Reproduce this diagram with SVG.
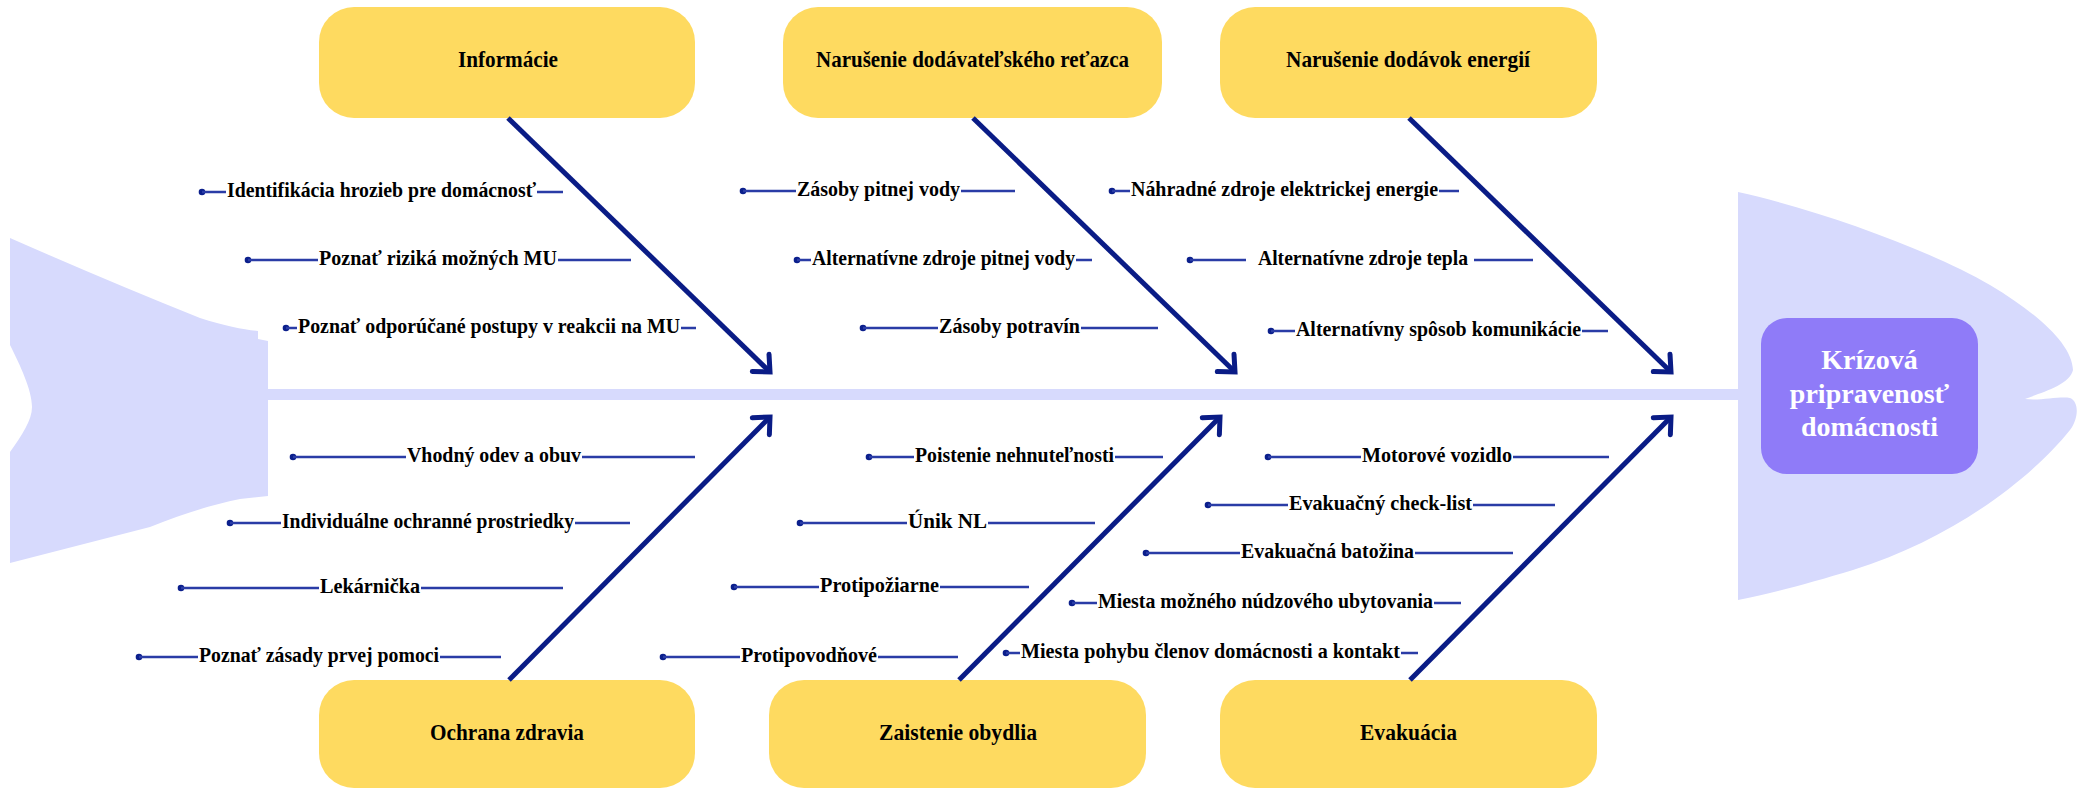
<svg xmlns="http://www.w3.org/2000/svg" width="2085" height="790" viewBox="0 0 2085 790">
<style>
.bg{fill:#D7DAFD}
.cat{fill:#FEDA60}
.catt{font-family:"Liberation Serif","Times New Roman",serif;font-weight:bold;font-size:24px;fill:#000;text-anchor:middle}
.it{font-family:"Liberation Serif","Times New Roman",serif;font-weight:bold;font-size:22px;fill:#000}
.sl{stroke:#2A3CA6;stroke-width:2.5;fill:none}
.dot{fill:#0B1F8C}
.arr{stroke:#0A1C86;stroke-width:5;fill:none;marker-end:url(#ah)}
.ctr{font-family:"Liberation Serif","Times New Roman",serif;font-weight:bold;font-size:28px;fill:#fff;text-anchor:middle}
</style>
<defs>
<marker id="ah" markerUnits="userSpaceOnUse" viewBox="-20 -20 40 40" refX="0" refY="0" markerWidth="40" markerHeight="40" orient="auto">
<path d="M-13,-12 L0,0 L-13,12" fill="none" stroke="#0A1C86" stroke-width="5" stroke-linecap="round" stroke-linejoin="miter"/>
</marker>
</defs>
<rect width="2085" height="790" fill="#fff"/>
<g id="fish">
<path class="bg" d="M10,238 Q110,282 200,318 C225,326 245,330 258,331 L258,339 L268,341 L268,496 L240,499 C210,505 180,515 150,527 L10,563 L10,452 C22,435 32,420 32,407 C32,390 20,365 10,345 Z"/>
<rect class="bg" x="266" y="389" width="1476" height="11"/>
<path class="bg" d="M1738,192 C1820,210 1930,250 1990,285 C2040,315 2072,345 2073,370 C2070,385 2040,393 2025,399 C2040,401 2060,396 2070,398 C2080,402 2078,420 2070,430 C2030,480 1950,540 1853,570 C1810,583 1770,594 1738,600 Z"/>
</g>
<g id="center">
<rect x="1761" y="318" width="217" height="156" rx="26" fill="#8F7BF8"/>
<text class="ctr" x="1869.5" y="369">Krízová</text>
<text class="ctr" x="1869.5" y="403">pripravenosť</text>
<text class="ctr" x="1869.5" y="436">domácnosti</text>
</g>
<g id="cat-informacie">
<rect class="cat" x="319" y="7" width="376" height="111" rx="35"/>
<text class="catt" x="508" y="67" textLength="100" lengthAdjust="spacingAndGlyphs">Informácie</text>
</g>
<g id="cat-retazec">
<rect class="cat" x="783" y="7" width="379" height="111" rx="35"/>
<text class="catt" x="972.5" y="67" textLength="313" lengthAdjust="spacingAndGlyphs">Narušenie dodávateľského reťazca</text>
</g>
<g id="cat-energie">
<rect class="cat" x="1220" y="7" width="377" height="111" rx="35"/>
<text class="catt" x="1408" y="67" textLength="244" lengthAdjust="spacingAndGlyphs">Narušenie dodávok energií</text>
</g>
<g id="cat-zdravie">
<rect class="cat" x="319" y="680" width="376" height="108" rx="35"/>
<text class="catt" x="507" y="740" textLength="154" lengthAdjust="spacingAndGlyphs">Ochrana zdravia</text>
</g>
<g id="cat-obydlie">
<rect class="cat" x="769" y="680" width="377" height="108" rx="35"/>
<text class="catt" x="958" y="740" textLength="158" lengthAdjust="spacingAndGlyphs">Zaistenie obydlia</text>
</g>
<g id="cat-evakuacia">
<rect class="cat" x="1220" y="680" width="377" height="108" rx="35"/>
<text class="catt" x="1408.5" y="740" textLength="97" lengthAdjust="spacingAndGlyphs">Evakuácia</text>
</g>
<g id="connectors">
<line class="arr" x1="508" y1="118" x2="770" y2="372"/>
<line class="arr" x1="973" y1="118" x2="1235" y2="372"/>
<line class="arr" x1="1409" y1="118" x2="1671" y2="372"/>
<line class="arr" x1="509" y1="680" x2="770" y2="417"/>
<line class="arr" x1="959" y1="680" x2="1220" y2="417"/>
<line class="arr" x1="1410" y1="680" x2="1671" y2="417"/>
</g>
<g id="items">
<g id="i1"><circle class="dot" cx="202" cy="192" r="3.3"/><path class="sl" d="M202,192H226M537,192H563"/><text class="it" x="227" y="197" textLength="309" lengthAdjust="spacingAndGlyphs">Identifikácia hrozieb pre domácnosť</text></g>
<g id="i2"><circle class="dot" cx="248" cy="260" r="3.3"/><path class="sl" d="M248,260H318M558,260H631"/><text class="it" x="319" y="265" textLength="238" lengthAdjust="spacingAndGlyphs">Poznať riziká možných MU</text></g>
<g id="i3"><circle class="dot" cx="286" cy="328" r="3.3"/><path class="sl" d="M286,328H297M681,328H696"/><text class="it" x="298" y="333" textLength="382" lengthAdjust="spacingAndGlyphs">Poznať odporúčané postupy v reakcii na MU</text></g>
<g id="i4"><circle class="dot" cx="743" cy="191" r="3.3"/><path class="sl" d="M743,191H796M961,191H1015"/><text class="it" x="797" y="196" textLength="163" lengthAdjust="spacingAndGlyphs">Zásoby pitnej vody</text></g>
<g id="i5"><circle class="dot" cx="797" cy="260" r="3.3"/><path class="sl" d="M797,260H811M1076,260H1092"/><text class="it" x="812" y="265" textLength="263" lengthAdjust="spacingAndGlyphs">Alternatívne zdroje pitnej vody</text></g>
<g id="i6"><circle class="dot" cx="863" cy="328" r="3.3"/><path class="sl" d="M863,328H938M1081,328H1158"/><text class="it" x="939" y="333" textLength="141" lengthAdjust="spacingAndGlyphs">Zásoby potravín</text></g>
<g id="i7"><circle class="dot" cx="1112" cy="191" r="3.3"/><path class="sl" d="M1112,191H1130M1439,191H1459"/><text class="it" x="1131" y="196" textLength="307" lengthAdjust="spacingAndGlyphs">Náhradné zdroje elektrickej energie</text></g>
<g id="i8"><circle class="dot" cx="1190" cy="260" r="3.3"/><path class="sl" d="M1190,260H1246M1474,260H1533"/><text class="it" x="1258" y="265" textLength="210" lengthAdjust="spacingAndGlyphs">Alternatívne zdroje tepla</text></g>
<g id="i9"><circle class="dot" cx="1271" cy="331" r="3.3"/><path class="sl" d="M1271,331H1295M1582,331H1608"/><text class="it" x="1296" y="336" textLength="285" lengthAdjust="spacingAndGlyphs">Alternatívny spôsob komunikácie</text></g>
<g id="i10"><circle class="dot" cx="293" cy="457" r="3.3"/><path class="sl" d="M293,457H406M582,457H695"/><text class="it" x="407" y="462" textLength="174" lengthAdjust="spacingAndGlyphs">Vhodný odev a obuv</text></g>
<g id="i11"><circle class="dot" cx="230" cy="523" r="3.3"/><path class="sl" d="M230,523H281M575,523H630"/><text class="it" x="282" y="528" textLength="292" lengthAdjust="spacingAndGlyphs">Individuálne ochranné prostriedky</text></g>
<g id="i12"><circle class="dot" cx="181" cy="588" r="3.3"/><path class="sl" d="M181,588H319M421,588H563"/><text class="it" x="320" y="593" textLength="100" lengthAdjust="spacingAndGlyphs">Lekárnička</text></g>
<g id="i13"><circle class="dot" cx="139" cy="657" r="3.3"/><path class="sl" d="M139,657H198M440,657H501"/><text class="it" x="199" y="662" textLength="240" lengthAdjust="spacingAndGlyphs">Poznať zásady prvej pomoci</text></g>
<g id="i14"><circle class="dot" cx="869" cy="457" r="3.3"/><path class="sl" d="M869,457H914M1115,457H1163"/><text class="it" x="915" y="462" textLength="199" lengthAdjust="spacingAndGlyphs">Poistenie nehnuteľnosti</text></g>
<g id="i15"><circle class="dot" cx="800" cy="523" r="3.3"/><path class="sl" d="M800,523H907M988,523H1095"/><text class="it" x="908" y="528" textLength="79" lengthAdjust="spacingAndGlyphs">Únik NL</text></g>
<g id="i16"><circle class="dot" cx="734" cy="587" r="3.3"/><path class="sl" d="M734,587H819M940,587H1029"/><text class="it" x="820" y="592" textLength="119" lengthAdjust="spacingAndGlyphs">Protipožiarne</text></g>
<g id="i17"><circle class="dot" cx="663" cy="657" r="3.3"/><path class="sl" d="M663,657H740M878,657H958"/><text class="it" x="741" y="662" textLength="136" lengthAdjust="spacingAndGlyphs">Protipovodňové</text></g>
<g id="i18"><circle class="dot" cx="1268" cy="457" r="3.3"/><path class="sl" d="M1268,457H1361M1513,457H1609"/><text class="it" x="1362" y="462" textLength="150" lengthAdjust="spacingAndGlyphs">Motorové vozidlo</text></g>
<g id="i19"><circle class="dot" cx="1208" cy="505" r="3.3"/><path class="sl" d="M1208,505H1288M1473,505H1555"/><text class="it" x="1289" y="510" textLength="183" lengthAdjust="spacingAndGlyphs">Evakuačný check-list</text></g>
<g id="i20"><circle class="dot" cx="1146" cy="553" r="3.3"/><path class="sl" d="M1146,553H1240M1415,553H1513"/><text class="it" x="1241" y="558" textLength="173" lengthAdjust="spacingAndGlyphs">Evakuačná batožina</text></g>
<g id="i21"><circle class="dot" cx="1072" cy="603" r="3.3"/><path class="sl" d="M1072,603H1097M1434,603H1461"/><text class="it" x="1098" y="608" textLength="335" lengthAdjust="spacingAndGlyphs">Miesta možného núdzového ubytovania</text></g>
<g id="i22"><circle class="dot" cx="1006" cy="653" r="3.3"/><path class="sl" d="M1006,653H1020M1401,653H1418"/><text class="it" x="1021" y="658" textLength="379" lengthAdjust="spacingAndGlyphs">Miesta pohybu členov domácnosti a kontakt</text></g>
</g>
</svg>
